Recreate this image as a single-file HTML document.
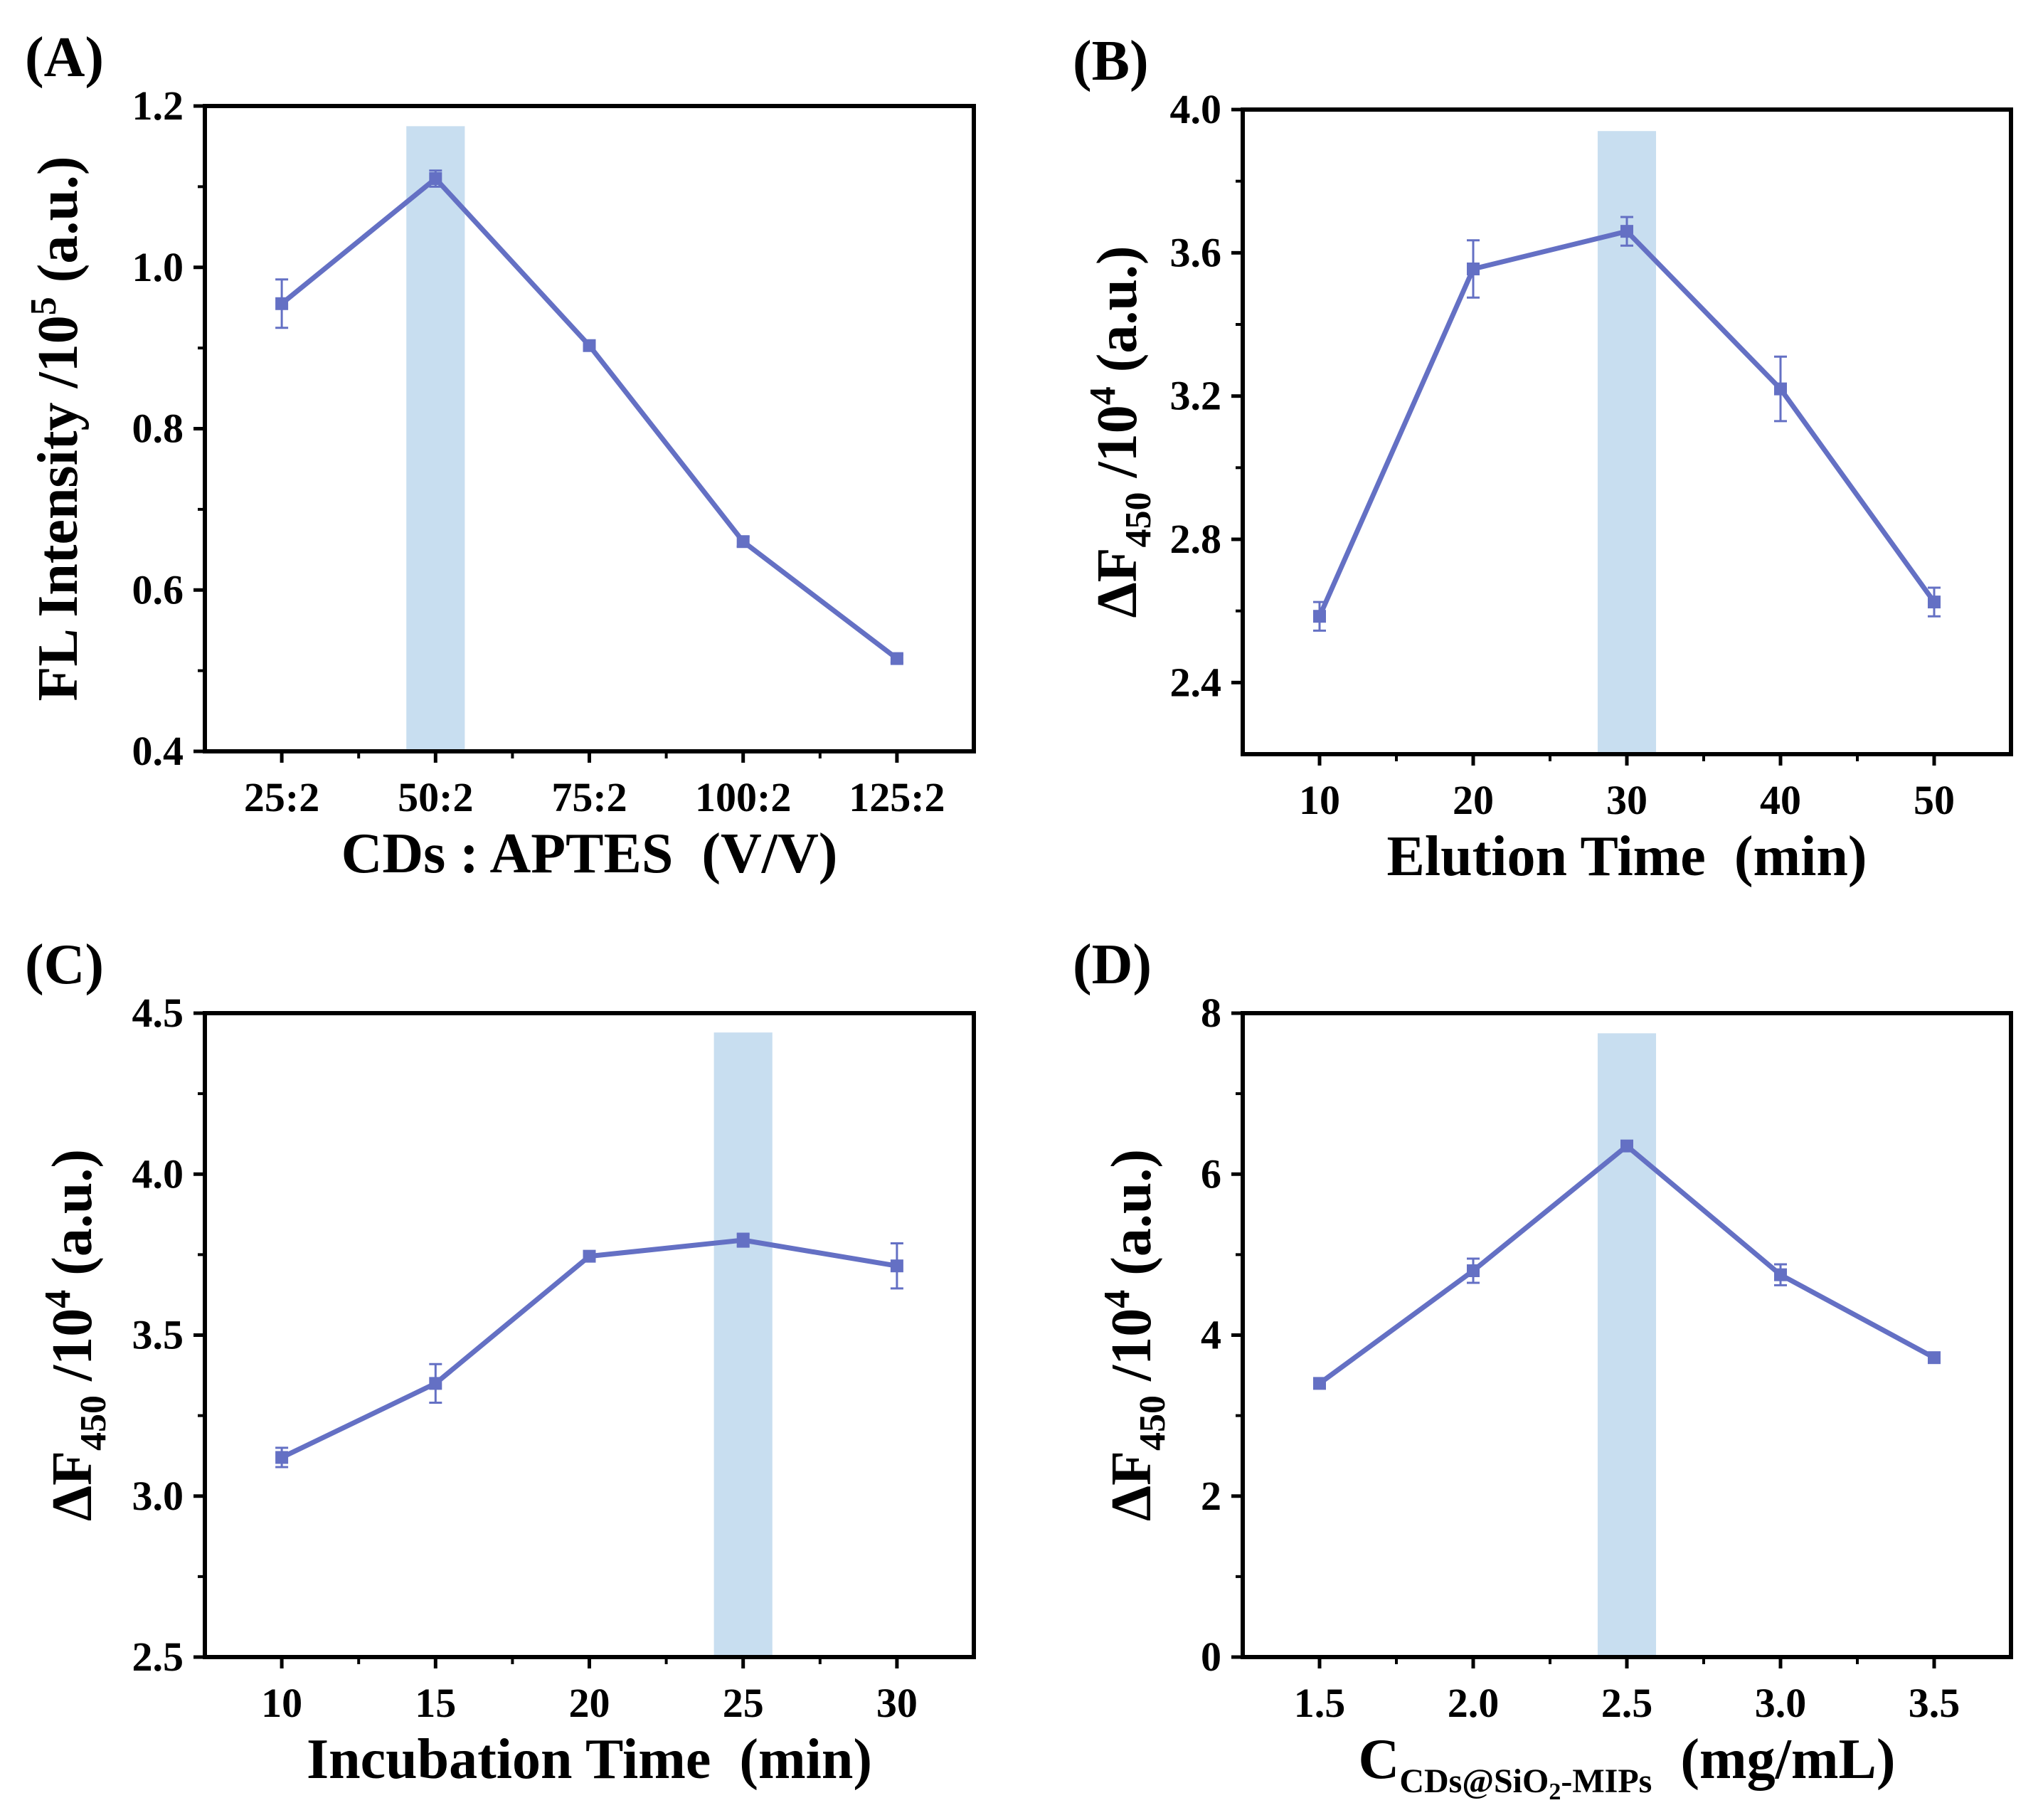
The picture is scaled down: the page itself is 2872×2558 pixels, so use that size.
<!DOCTYPE html>
<html><head><meta charset="utf-8">
<style>
html,body{margin:0;padding:0;background:#fff;}
svg{display:block;}
text{font-family:"Liberation Serif",serif;font-weight:bold;fill:#000;white-space:pre;}
</style></head>
<body>
<svg id="fig" width="2872" height="2558" viewBox="0 0 2872 2558" xmlns="http://www.w3.org/2000/svg"></svg>
<script>
// Panel A data
const catsA = ["25:2","50:2","75:2","100:2","125:2"];
const valsA = [0.955, 1.110, 0.903, 0.660, 0.515];
const errsA = [0.030, 0.010, 0.006, 0.006, 0.005];
const yTicksA = [0.4,0.6,0.8,1.0,1.2];
// Panel B data
const xB = [10,20,30,40,50];
const valsB = [2.585, 3.555, 3.660, 3.220, 2.625];
const errsB = [0.040, 0.080, 0.040, 0.090, 0.040];
const yTicksB = [2.4,2.8,3.2,3.6,4.0];
// Panel C data
const xC = [10,15,20,25,30];
const valsC = [3.120, 3.350, 3.745, 3.795, 3.715];
const errsC = [0.030, 0.060, 0.015, 0.020, 0.070];
const yTicksC = [2.5,3.0,3.5,4.0,4.5];
// Panel D data
const xD = [1.5,2.0,2.5,3.0,3.5];
const valsD = [3.40, 4.80, 6.35, 4.75, 3.72];
const errsD = [0.05, 0.15, 0.06, 0.13, 0.05];
const yTicksD = [0,2,4,6,8];

const NS="http://www.w3.org/2000/svg";
const svg=document.getElementById('fig');
const LINE="#6470c4", BAND="#c8def0";
function el(tag,attrs,parent){const e=document.createElementNS(NS,tag);for(const k in attrs)e.setAttribute(k,attrs[k]);(parent||svg).appendChild(e);return e;}

function panel(cfg){
  const g=el('g',{});
  
  
  const L=cfg.L,R=cfg.R,T=cfg.T,B=cfg.B;
  const sx=v=>L+(v-cfg.xmin)/(cfg.xmax-cfg.xmin)*(R-L);
  const sy=v=>B-(v-cfg.ymin)/(cfg.ymax-cfg.ymin)*(B-T);
  const lab=el('text',{x:cfg.labX,y:T-42,'font-size':80},g);
  lab.textContent='('+cfg.id.toUpperCase()+')';
  
  
  const band=el('rect',{x:sx(cfg.bandC-cfg.bandW),y:sy(cfg.bandTop),width:sx(cfg.bandC+cfg.bandW)-sx(cfg.bandC-cfg.bandW),height:B-sy(cfg.bandTop),fill:BAND},g);
  
  
  const fr=el('rect',{x:L,y:T,width:R-L,height:B-T,fill:'none',stroke:'#000','stroke-width':6},g);
  
  
  cfg.yTicks.forEach((v,i)=>{
    el('line',{x1:L-16,x2:L,y1:sy(v),y2:sy(v),stroke:'#000','stroke-width':5},g);
    if(i<cfg.yTicks.length-1){const m=(v+cfg.yTicks[i+1])/2;el('line',{x1:L-10,x2:L,y1:sy(m),y2:sy(m),stroke:'#000','stroke-width':4},g);}
    const t=el('text',{x:L-30,y:sy(v)+19,'font-size':58,'text-anchor':'end'},g);
    t.textContent=cfg.yFmt(v);
    
    
  });
  cfg.xs.forEach((v,i)=>{
    el('line',{x1:sx(v),x2:sx(v),y1:B,y2:B+16,stroke:'#000','stroke-width':5},g);
    const t=el('text',{x:sx(v),y:B+84,'font-size':58,'text-anchor':'middle'},g);
    t.textContent=cfg.xLabels[i];
    
    
  });
  cfg.xMinor.forEach(v=>{el('line',{x1:sx(v),x2:sx(v),y1:B,y2:B+10,stroke:'#000','stroke-width':4},g);});
  const pts=cfg.xs.map((x,i)=>sx(x)+','+sy(cfg.vals[i])).join(' ');
  const pl=el('polyline',{points:pts,fill:'none',stroke:LINE,'stroke-width':7,'stroke-linejoin':'round'},g);
  
  
  cfg.xs.forEach((x,i)=>{
    const cx=sx(x),cy=sy(cfg.vals[i]),e=cfg.errs[i];
    el('line',{x1:cx,x2:cx,y1:sy(cfg.vals[i]+e),y2:sy(cfg.vals[i]-e),stroke:LINE,'stroke-width':3},g);
    el('line',{x1:cx-9,x2:cx+9,y1:sy(cfg.vals[i]+e),y2:sy(cfg.vals[i]+e),stroke:LINE,'stroke-width':3},g);
    el('line',{x1:cx-9,x2:cx+9,y1:sy(cfg.vals[i]-e),y2:sy(cfg.vals[i]-e),stroke:LINE,'stroke-width':3},g);
    const m=el('rect',{x:cx-9,y:cy-9,width:18,height:18,fill:LINE},g);
    
    
  });
  const xt=el('text',{x:(L+R)/2,y:B+170,'font-size':80,'text-anchor':'middle'},g);
  xt.innerHTML=cfg.xTitle;
  
  
  const yt=el('text',{x:0,y:0,'font-size':80,'text-anchor':'middle',transform:`translate(${L-cfg.yTitleOff},${(T+B)/2}) rotate(-90)`},g);
  yt.innerHTML=cfg.yTitle;
  
  
}

const dfTitle='ΔF<tspan font-size="52" dy="20">450</tspan><tspan dy="-20"> /10</tspan><tspan font-size="52" dy="-30">4</tspan><tspan dy="30"> (a.u.)</tspan>';

panel({id:'a',L:288,R:1369,T:149,B:1056,labX:35,xmin:-0.5,xmax:4.5,ymin:0.4,ymax:1.2,
  xs:[0,1,2,3,4],xLabels:catsA,vals:valsA,errs:errsA,yTicks:yTicksA,yFmt:v=>v.toFixed(1),
  xMinor:[0.5,1.5,2.5,3.5],bandC:1,bandW:0.19,bandTop:1.175,yTitleOff:180,
  xTitle:'CDs : APTES  (V/V)',
  yTitle:'FL Intensity /10<tspan font-size="52" dy="-30">5</tspan><tspan dy="30"> (a.u.)</tspan>'});
panel({id:'b',L:1747,R:2827,T:154,B:1060,labX:1508,xmin:5,xmax:55,ymin:2.2,ymax:4.0,
  xs:xB,xLabels:xB.map(String),vals:valsB,errs:errsB,yTicks:yTicksB,yFmt:v=>v.toFixed(1),
  xMinor:[15,25,35,45],bandC:30,bandW:1.9,bandTop:3.94,yTitleOff:150,
  xTitle:'Elution Time  (min)',yTitle:dfTitle});
panel({id:'c',L:288,R:1369,T:1424,B:2329,labX:35,xmin:7.5,xmax:32.5,ymin:2.5,ymax:4.5,
  xs:xC,xLabels:xC.map(String),vals:valsC,errs:errsC,yTicks:yTicksC,yFmt:v=>v.toFixed(1),
  xMinor:[12.5,17.5,22.5,27.5],bandC:25,bandW:0.95,bandTop:4.44,yTitleOff:160,
  xTitle:'Incubation Time  (min)',yTitle:dfTitle});
panel({id:'d',L:1747,R:2827,T:1424,B:2329,labX:1508,xmin:1.25,xmax:3.75,ymin:0,ymax:8,
  xs:xD,xLabels:xD.map(v=>v.toFixed(1)),vals:valsD,errs:errsD,yTicks:yTicksD,yFmt:v=>String(v),
  xMinor:[1.75,2.25,2.75,3.25],bandC:2.5,bandW:0.095,bandTop:7.75,yTitleOff:130,
  xTitle:'C<tspan font-size="48" dy="20">CDs@SiO</tspan><tspan font-size="34" dy="10">2</tspan><tspan font-size="48" dy="-10">-MIPs</tspan><tspan dy="-20">  (mg/mL)</tspan>',yTitle:dfTitle});
</script>
</body></html>
